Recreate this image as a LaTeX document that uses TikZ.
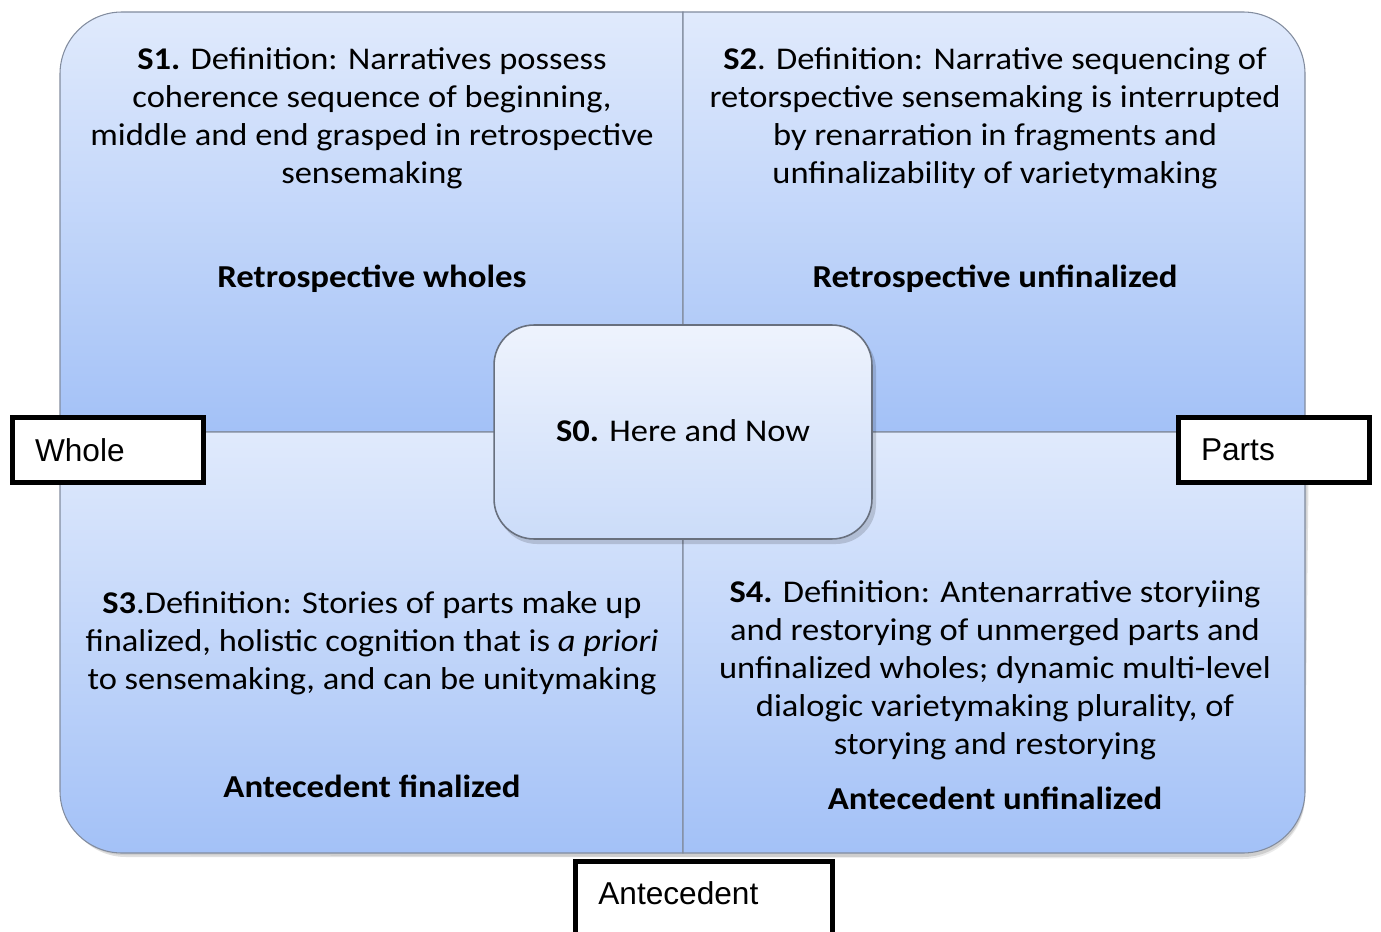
\documentclass[tikz,border=0pt]{standalone}
\usepackage{fontspec}
\setmainfont{Carlito}[FakeStretch=1.09]
\newfontfamily\arialfont{Liberation Sans}
\definecolor{quadtop}{RGB}{224,234,252}
\definecolor{quadbot}{RGB}{163,193,247}
\definecolor{centtop}{RGB}{238,243,253}
\definecolor{centbot}{RGB}{203,220,249}
\definecolor{edgegray}{RGB}{130,140,158}
\tikzset{
  quad/.style={draw=edgegray, line width=0.6pt, top color=quadtop, bottom color=quadbot},
  deftext/.style={align=center, font=\fontsize{18}{21.6}\selectfont, inner sep=0pt},
  headtext/.style={font=\fontsize{18.2}{21}\selectfont\bfseries, inner sep=0pt},
  sidebox/.style={draw, line width=0.1cm, fill=white, minimum height=1.3cm,
    text width=2.92cm, inner xsep=0.45cm, align=left, font=\arialfont\fontsize{18}{22}\selectfont}
}
\begin{document}
\begin{tikzpicture}[x=0.02cm, y=0.02cm]
\useasboundingbox (0,0) rectangle (1381,931);
\clip (0,0) rectangle (1381,931);
\coordinate (O) at (683,499);

% shadow
\fill[black, opacity=0.12] (64,-4+499) -- (64,-4+78+62) arc[start angle=180, end angle=270, radius=62] -- (1305-62,74) arc[start angle=270, end angle=360, radius=62] -- (1309,495) -- cycle;
\fill[black, opacity=0.08] (62,497) -- (62,76+62) arc[start angle=180, end angle=270, radius=62] -- (1305-62,72) arc[start angle=270, end angle=360, radius=62] -- (1307,497) -- cycle;

% quadrants
\draw[quad] (60,499) -- (60,919-62) arc[start angle=180, end angle=90, radius=62] -- (683,919) -- (683,499) -- cycle;
\draw[quad] (683,499) -- (683,919) -- (1305-62,919) arc[start angle=90, end angle=0, radius=62] -- (1305,499) -- cycle;
\draw[quad] (60,499) -- (683,499) -- (683,78) -- (60+62,78) arc[start angle=270, end angle=180, radius=62] -- cycle;
\draw[quad] (683,499) -- (1305,499) -- (1305,78+62) arc[start angle=0, end angle=-90, radius=62] -- (683,78) -- cycle;

% centre box
\fill[black, opacity=0.15, rounded corners=0.8cm] (497,387) rectangle (876,601);
\node[draw=edgegray!80!black, line width=0.9pt, rounded corners=0.8cm, top color=centtop, bottom color=centbot,
  minimum width=7.56cm, minimum height=4.28cm] (s0) at (O) {};
\node[deftext] (s0text) at (683,500) {\textbf{S0.} Here and Now};

\node[deftext] (s1) at (372,813) {\textbf{S1.} Definition: Narratives possess\\coherence sequence of beginning,\\middle and end grasped in retrospective\\sensemaking};
\node[headtext] (s1head) at (372,652) {Retrospective wholes};

\node[deftext] (s2) at (995,813) {\textbf{S2}. Definition: Narrative sequencing of\\retorspective sensemaking is interrupted\\by renarration in fragments and\\unfinalizability of varietymaking};
\node[headtext] (s2head) at (995,652) {Retrospective unfinalized};

\node[deftext] (s3) at (372,288) {\textbf{S3}.Definition: Stories of parts make up\\finalized, holistic cognition that is \textit{a priori}\\to sensemaking, and can be unitymaking};
\node[headtext] (s3head) at (372,145) {Antecedent finalized};

\node[deftext] (s4) at (995,261) {\textbf{S4.} Definition: Antenarrative storyiing\\and restorying of unmerged parts and\\unfinalized wholes; dynamic multi-level\\dialogic varietymaking plurality, of\\storying and restorying};
\node[headtext] (s4head) at (995,133) {Antecedent unfinalized};

% axis labels
\node[sidebox] (whole) at (108,481) {Whole};
\node[sidebox] (parts) at (1274,481) {Parts};
\draw[line width=0.1cm, fill=white] (575.5,-20) -- (575.5,69.5) -- (832.5,69.5) -- (832.5,-20);
\node[anchor=west, font=\arialfont\fontsize{18}{22}\selectfont, inner sep=0pt] (ante) at (598,38) {Antecedent};
\end{tikzpicture}
\end{document}
